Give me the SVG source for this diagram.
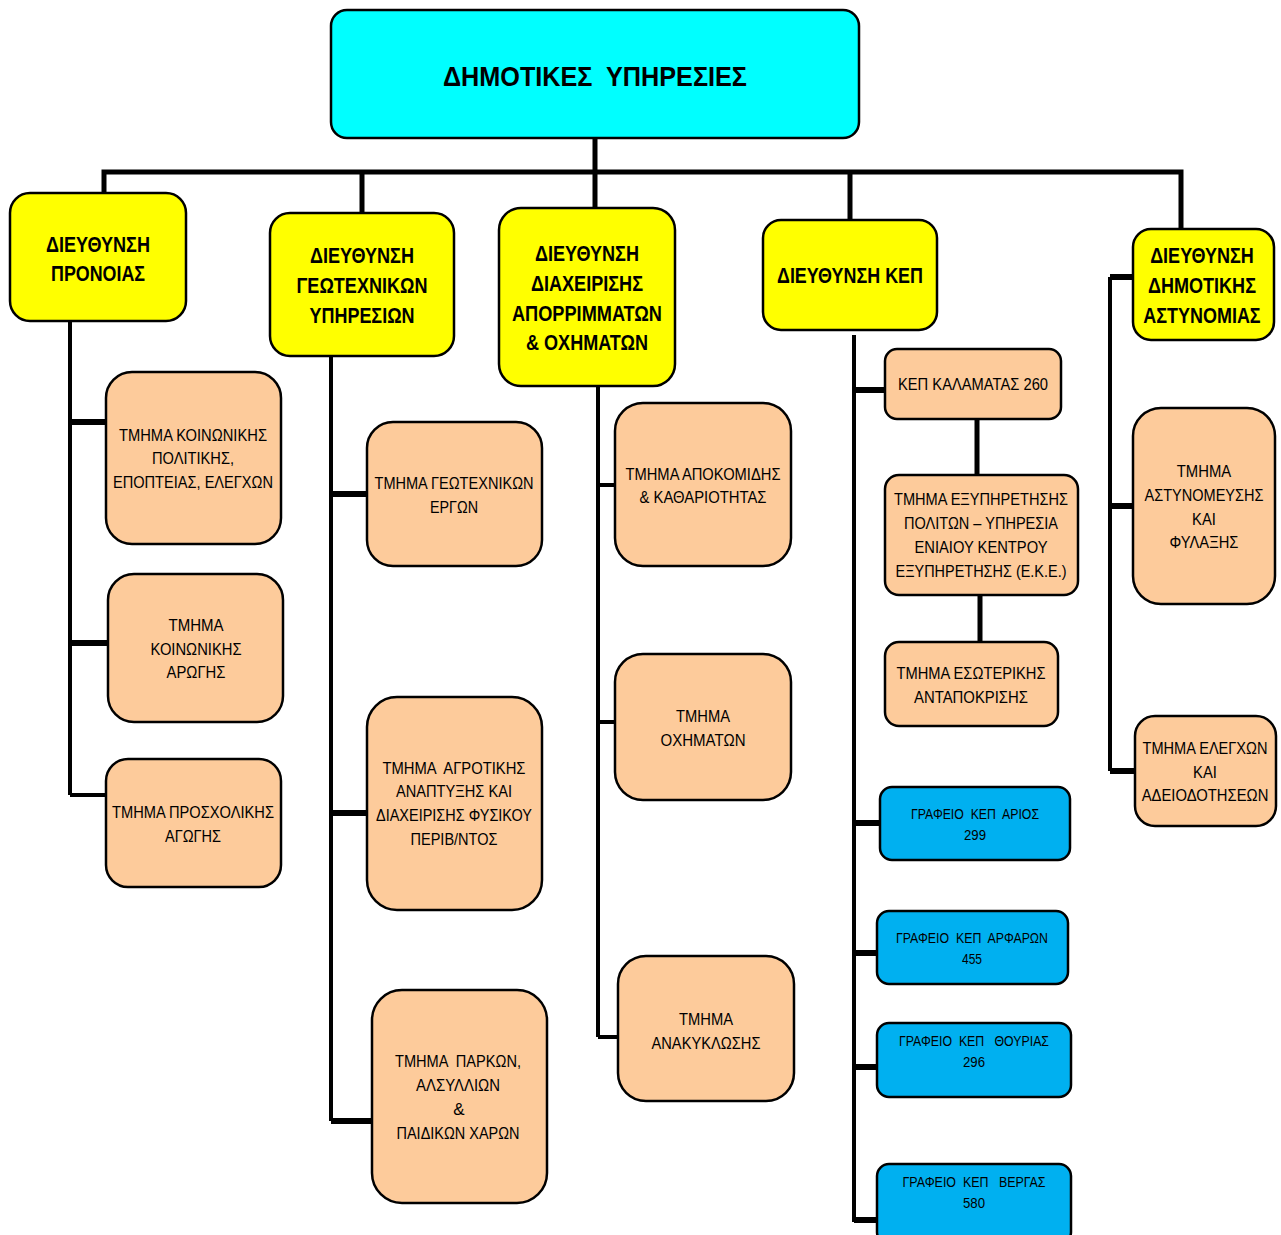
<svg xmlns="http://www.w3.org/2000/svg" width="1281" height="1235" viewBox="0 0 1281 1235">
<style>
.top{fill:#00FFFF;stroke:#000;stroke-width:2.5}
.dir{fill:#FFFF00;stroke:#000;stroke-width:2.5}
.sec{fill:#FDCB9B;stroke:#000;stroke-width:2.5}
.off{fill:#00B0F0;stroke:#000;stroke-width:2.5}
.t{font-family:"Liberation Sans",Arial,sans-serif;text-anchor:middle;fill:#000;white-space:pre}
.b{font-weight:bold;font-size:22px}
.n{font-size:17px}
.s{font-size:15px}
.c path{fill:none;stroke:#000;stroke-linecap:butt;stroke-linejoin:miter}
</style>
<rect width="1281" height="1235" fill="#fff"/>
<g class="c" id="connectors">
<path d="M595 138V172M104 195V172H1181V230M362 172V214M595 172V209M850 172V221" stroke-width="5"/>
<path d="M70 321V795M331 356V1121M598 386V1037M854 335V1222M1110 277V771" stroke-width="4"/>
<path d="M70 422H106M70 643H108M331 494H367M331 813H367M331 1121H372M853 390H885M853 823H880M854 953H877M854 1067H877M854 1220H877M1110 277H1133M1110 506H1133M1110 771H1135" stroke-width="6"/>
<path d="M70 795H106M598 485H615M598 722H615M598 1037H618" stroke-width="4"/>
<path d="M977 419V475M980 595V642" stroke-width="5"/>
</g>
<g id="root"><rect class="top" x="331" y="10" width="528" height="128" rx="16"/>
<text class="t" x="595" y="86" font-size="28" font-weight="bold" textLength="304" lengthAdjust="spacingAndGlyphs">ΔΗΜΟΤΙΚΕΣ  ΥΠΗΡΕΣΙΕΣ</text></g>

<g id="d1"><rect class="dir" x="10" y="193" width="176" height="128" rx="20"/>
<text class="t b" x="98" y="252" textLength="104" lengthAdjust="spacingAndGlyphs">ΔΙΕΥΘΥΝΣΗ</text>
<text class="t b" x="98" y="281" textLength="94" lengthAdjust="spacingAndGlyphs">ΠΡΟΝΟΙΑΣ</text></g>
<g id="d2"><rect class="dir" x="270" y="213" width="184" height="143" rx="20"/>
<text class="t b" x="362" y="263" textLength="104" lengthAdjust="spacingAndGlyphs">ΔΙΕΥΘΥΝΣΗ</text>
<text class="t b" x="362" y="293" textLength="131" lengthAdjust="spacingAndGlyphs">ΓΕΩΤΕΧΝΙΚΩΝ</text>
<text class="t b" x="362" y="323" textLength="105" lengthAdjust="spacingAndGlyphs">ΥΠΗΡΕΣΙΩΝ</text></g>
<g id="d3"><rect class="dir" x="499" y="208" width="176" height="178" rx="22"/>
<text class="t b" x="587" y="261" textLength="104" lengthAdjust="spacingAndGlyphs">ΔΙΕΥΘΥΝΣΗ</text>
<text class="t b" x="587" y="291" textLength="112" lengthAdjust="spacingAndGlyphs">ΔΙΑΧΕΙΡΙΣΗΣ</text>
<text class="t b" x="587" y="321" textLength="150" lengthAdjust="spacingAndGlyphs">ΑΠΟΡΡΙΜΜΑΤΩΝ</text>
<text class="t b" x="587" y="350" textLength="122" lengthAdjust="spacingAndGlyphs">&amp; ΟΧΗΜΑΤΩΝ</text></g>
<g id="d4"><rect class="dir" x="763" y="220" width="174" height="110" rx="18"/>
<text class="t b" x="850" y="283" textLength="146" lengthAdjust="spacingAndGlyphs">ΔΙΕΥΘΥΝΣΗ ΚΕΠ</text></g>
<g id="d5"><rect class="dir" x="1133" y="229" width="141" height="111" rx="18"/>
<g transform="translate(1202,0) scale(0.85,1)">
<text class="t b" x="0" y="263" textLength="122" lengthAdjust="spacingAndGlyphs">ΔΙΕΥΘΥΝΣΗ</text>
<text class="t b" x="0" y="293" textLength="127" lengthAdjust="spacingAndGlyphs">ΔΗΜΟΤΙΚΗΣ</text>
<text class="t b" x="0" y="323" textLength="138" lengthAdjust="spacingAndGlyphs">ΑΣΤΥΝΟΜΙΑΣ</text></g></g>

<g id="s11"><rect class="sec" x="106" y="372" width="175" height="172" rx="26"/>
<text class="t n" x="193" y="441" textLength="148" lengthAdjust="spacingAndGlyphs">ΤΜΗΜΑ ΚΟΙΝΩΝΙΚΗΣ</text>
<text class="t n" x="193" y="464" textLength="82" lengthAdjust="spacingAndGlyphs">ΠΟΛΙΤΙΚΗΣ,</text>
<text class="t n" x="193" y="488" textLength="160" lengthAdjust="spacingAndGlyphs">ΕΠΟΠΤΕΙΑΣ, ΕΛΕΓΧΩΝ</text></g>
<g id="s12"><rect class="sec" x="108" y="574" width="175" height="148" rx="26"/>
<text class="t n" x="196" y="631" textLength="55" lengthAdjust="spacingAndGlyphs">ΤΜΗΜΑ</text>
<text class="t n" x="196" y="655" textLength="91" lengthAdjust="spacingAndGlyphs">ΚΟΙΝΩΝΙΚΗΣ</text>
<text class="t n" x="196" y="678" textLength="59" lengthAdjust="spacingAndGlyphs">ΑΡΩΓΗΣ</text></g>
<g id="s13"><rect class="sec" x="106" y="759" width="175" height="128" rx="22"/>
<text class="t n" x="193" y="818" textLength="162" lengthAdjust="spacingAndGlyphs">ΤΜΗΜΑ ΠΡΟΣΧΟΛΙΚΗΣ</text>
<text class="t n" x="193" y="842" textLength="56" lengthAdjust="spacingAndGlyphs">ΑΓΩΓΗΣ</text></g>

<g id="s21"><rect class="sec" x="367" y="422" width="175" height="144" rx="26"/>
<text class="t n" x="454" y="489" textLength="159" lengthAdjust="spacingAndGlyphs">ΤΜΗΜΑ ΓΕΩΤΕΧΝΙΚΩΝ</text>
<text class="t n" x="454" y="513" textLength="48" lengthAdjust="spacingAndGlyphs">ΕΡΓΩΝ</text></g>
<g id="s22"><rect class="sec" x="367" y="697" width="175" height="213" rx="30"/>
<text class="t n" x="454" y="774" textLength="143" lengthAdjust="spacingAndGlyphs">ΤΜΗΜΑ  ΑΓΡΟΤΙΚΗΣ</text>
<text class="t n" x="454" y="797" textLength="116" lengthAdjust="spacingAndGlyphs">ΑΝΑΠΤΥΞΗΣ ΚΑΙ</text>
<text class="t n" x="454" y="821" textLength="156" lengthAdjust="spacingAndGlyphs">ΔΙΑΧΕΙΡΙΣΗΣ ΦΥΣΙΚΟΥ</text>
<text class="t n" x="454" y="845" textLength="87" lengthAdjust="spacingAndGlyphs">ΠΕΡΙΒ/ΝΤΟΣ</text></g>
<g id="s23"><rect class="sec" x="372" y="990" width="175" height="213" rx="30"/>
<text class="t n" x="458" y="1067" textLength="126" lengthAdjust="spacingAndGlyphs">ΤΜΗΜΑ  ΠΑΡΚΩΝ,</text>
<text class="t n" x="458" y="1091" textLength="84" lengthAdjust="spacingAndGlyphs">ΑΛΣΥΛΛΙΩΝ</text>
<text class="t n" x="459" y="1115">&amp;</text>
<text class="t n" x="458" y="1139" textLength="123" lengthAdjust="spacingAndGlyphs">ΠΑΙΔΙΚΩΝ ΧΑΡΩΝ</text></g>

<g id="s31"><rect class="sec" x="615" y="403" width="176" height="163" rx="28"/>
<text class="t n" x="703" y="480" textLength="155" lengthAdjust="spacingAndGlyphs">ΤΜΗΜΑ ΑΠΟΚΟΜΙΔΗΣ</text>
<text class="t n" x="703" y="503" textLength="127" lengthAdjust="spacingAndGlyphs">&amp; ΚΑΘΑΡΙΟΤΗΤΑΣ</text></g>
<g id="s32"><rect class="sec" x="615" y="654" width="176" height="146" rx="28"/>
<text class="t n" x="703" y="722" textLength="54" lengthAdjust="spacingAndGlyphs">ΤΜΗΜΑ</text>
<text class="t n" x="703" y="746" textLength="85" lengthAdjust="spacingAndGlyphs">ΟΧΗΜΑΤΩΝ</text></g>
<g id="s33"><rect class="sec" x="618" y="956" width="176" height="145" rx="28"/>
<text class="t n" x="706" y="1025" textLength="54" lengthAdjust="spacingAndGlyphs">ΤΜΗΜΑ</text>
<text class="t n" x="706" y="1049" textLength="109" lengthAdjust="spacingAndGlyphs">ΑΝΑΚΥΚΛΩΣΗΣ</text></g>

<g id="s41"><rect class="sec" x="885" y="349" width="176" height="70" rx="12"/>
<text class="t n" x="973" y="390" textLength="150" lengthAdjust="spacingAndGlyphs">ΚΕΠ ΚΑΛΑΜΑΤΑΣ 260</text></g>
<g id="s42"><rect class="sec" x="885" y="475" width="193" height="120" rx="14"/>
<text class="t n" x="981" y="505" textLength="174" lengthAdjust="spacingAndGlyphs">ΤΜΗΜΑ ΕΞΥΠΗΡΕΤΗΣΗΣ</text>
<text class="t n" x="981" y="529" textLength="154" lengthAdjust="spacingAndGlyphs">ΠΟΛΙΤΩΝ – ΥΠΗΡΕΣΙΑ</text>
<text class="t n" x="981" y="553" textLength="133" lengthAdjust="spacingAndGlyphs">ΕΝΙΑΙΟΥ ΚΕΝΤΡΟΥ</text>
<text class="t n" x="981" y="577" textLength="171" lengthAdjust="spacingAndGlyphs">ΕΞΥΠΗΡΕΤΗΣΗΣ (Ε.Κ.Ε.)</text></g>
<g id="s43"><rect class="sec" x="885" y="642" width="173" height="84" rx="14"/>
<text class="t n" x="971" y="679" textLength="149" lengthAdjust="spacingAndGlyphs">ΤΜΗΜΑ ΕΣΩΤΕΡΙΚΗΣ</text>
<text class="t n" x="971" y="703" textLength="114" lengthAdjust="spacingAndGlyphs">ΑΝΤΑΠΟΚΡΙΣΗΣ</text></g>
<g id="o1"><rect class="off" x="880" y="787" width="190" height="73" rx="12"/>
<text class="t s" x="975" y="819" textLength="128" lengthAdjust="spacingAndGlyphs">ΓΡΑΦΕΙΟ  ΚΕΠ  ΑΡΙΟΣ</text>
<text class="t s" x="975" y="840" textLength="22" lengthAdjust="spacingAndGlyphs">299</text></g>
<g id="o2"><rect class="off" x="877" y="911" width="191" height="73" rx="12"/>
<text class="t s" x="972" y="943" textLength="152" lengthAdjust="spacingAndGlyphs">ΓΡΑΦΕΙΟ  ΚΕΠ  ΑΡΦΑΡΩΝ</text>
<text class="t s" x="972" y="964" textLength="20" lengthAdjust="spacingAndGlyphs">455</text></g>
<g id="o3"><rect class="off" x="877" y="1023" width="194" height="74" rx="12"/>
<text class="t s" x="974" y="1046" textLength="150" lengthAdjust="spacingAndGlyphs">ΓΡΑΦΕΙΟ  ΚΕΠ   ΘΟΥΡΙΑΣ</text>
<text class="t s" x="974" y="1067" textLength="22" lengthAdjust="spacingAndGlyphs">296</text></g>
<g id="o4"><rect class="off" x="877" y="1164" width="194" height="80" rx="12"/>
<text class="t s" x="974" y="1187" textLength="143" lengthAdjust="spacingAndGlyphs">ΓΡΑΦΕΙΟ  ΚΕΠ   ΒΕΡΓΑΣ</text>
<text class="t s" x="974" y="1208" textLength="22" lengthAdjust="spacingAndGlyphs">580</text></g>

<g id="s51"><rect class="sec" x="1133" y="408" width="142" height="196" rx="28"/>
<g transform="translate(1204,0) scale(0.85,1)">
<text class="t n" x="0" y="477" textLength="64" lengthAdjust="spacingAndGlyphs">ΤΜΗΜΑ</text>
<text class="t n" x="0" y="501" textLength="140" lengthAdjust="spacingAndGlyphs">ΑΣΤΥΝΟΜΕΥΣΗΣ</text>
<text class="t n" x="0" y="525" textLength="28" lengthAdjust="spacingAndGlyphs">ΚΑΙ</text>
<text class="t n" x="0" y="548" textLength="81" lengthAdjust="spacingAndGlyphs">ΦΥΛΑΞΗΣ</text></g></g>
<g id="s52"><rect class="sec" x="1135" y="716" width="141" height="110" rx="20"/>
<g transform="translate(1205,0) scale(0.85,1)">
<text class="t n" x="0" y="754" textLength="147" lengthAdjust="spacingAndGlyphs">ΤΜΗΜΑ ΕΛΕΓΧΩΝ</text>
<text class="t n" x="0" y="778" textLength="28" lengthAdjust="spacingAndGlyphs">ΚΑΙ</text>
<text class="t n" x="0" y="801" textLength="149" lengthAdjust="spacingAndGlyphs">ΑΔΕΙΟΔΟΤΗΣΕΩΝ</text></g></g>
</svg>
